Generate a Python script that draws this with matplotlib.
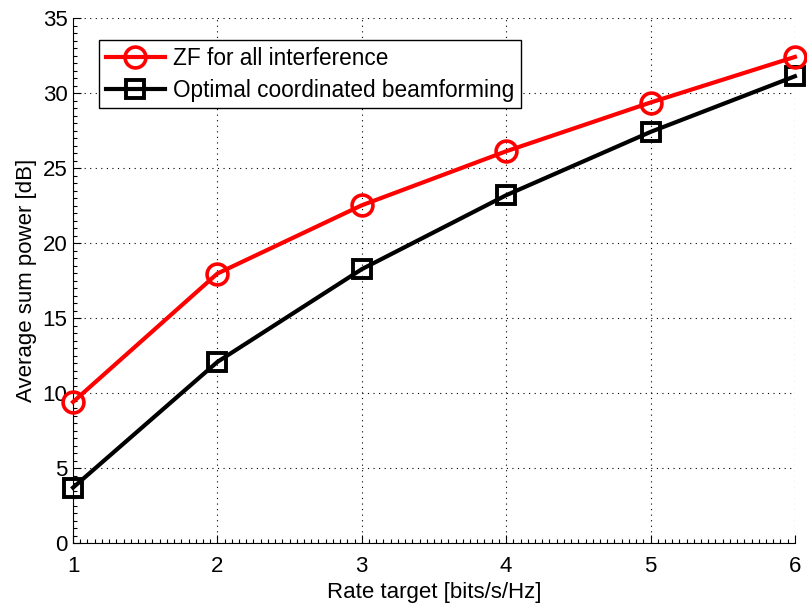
import numpy as np
import matplotlib.pyplot as plt
from matplotlib.ticker import MultipleLocator

plt.rcParams['font.family'] = ['Liberation Sans', 'DejaVu Sans']

# rate targets and average sum power for the two schemes
rate = np.array([1, 2, 3, 4, 5, 6])
power_zf = np.array([9.42, 17.98, 22.53, 26.13, 29.38, 32.42])
power_opt = np.array([3.71, 12.09, 18.27, 23.2, 27.42, 31.13])

fig = plt.figure(figsize=(8.07, 6.07), dpi=100)
ax = fig.add_axes([0.0905, 0.105, 0.8945, 0.865])

ax.plot(rate, power_zf, color='red', lw=3, marker='o', ms=15, mew=2.6,
        mfc='none', label='ZF for all interference', clip_on=False, zorder=4)
ax.plot(rate, power_opt, color='black', lw=3, marker='s', ms=12.5, mew=2.8,
        mfc='none', label='Optimal coordinated beamforming', clip_on=False, zorder=3)

ax.set_xlim(1, 6)
ax.set_ylim(0, 35)
ax.xaxis.set_major_locator(MultipleLocator(1))
ax.yaxis.set_major_locator(MultipleLocator(5))
ax.xaxis.set_minor_locator(MultipleLocator(0.05))
ax.yaxis.set_minor_locator(MultipleLocator(0.5))
ax.tick_params(which='both', direction='in', labelsize=16, width=0.8)
ax.tick_params(which='major', length=6)
ax.tick_params(axis='x', which='major', pad=9)
ax.tick_params(axis='y', which='major', pad=4)
ax.tick_params(which='minor', length=3)

ax.spines['top'].set_visible(False)
ax.spines['right'].set_visible(False)
ax.grid(True, which='major', linestyle=(0, (1, 4)), color='black', lw=0.8)

ax.set_xlabel('Rate target [bits/s/Hz]', fontsize=16, labelpad=4)
ax.set_ylabel('Average sum power [dB]', fontsize=16, labelpad=4)

leg = ax.legend(loc='upper left', bbox_to_anchor=(0.036, 0.958), fontsize=16.3,
                fancybox=False, edgecolor='black', framealpha=1,
                handlelength=2.6, handletextpad=0.35, borderpad=0.3,
                labelspacing=0.38, borderaxespad=0)
leg.get_frame().set_linewidth(1.0)

fig.savefig('out.png', dpi=100)
